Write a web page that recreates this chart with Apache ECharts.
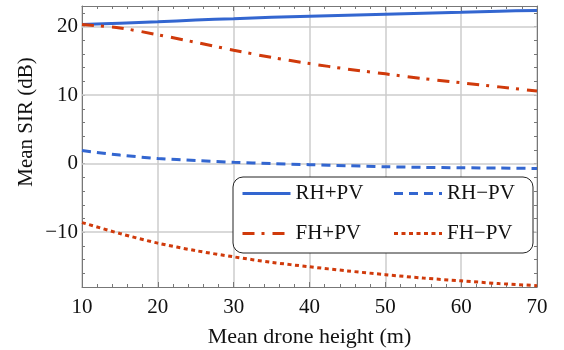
<!DOCTYPE html>
<html>
<head>
<meta charset="utf-8">
<script src="https://cdn.jsdelivr.net/npm/echarts@6/dist/echarts.min.js"></script>
<style>
  html, body { margin: 0; padding: 0; background: #fff; }
  #chart { width: 564px; height: 350px; }
</style>
</head>
<body>
<div id="chart"></div>
<script>
// mean drone height (m)
const heights = [10, 15, 20, 25, 30, 35, 40, 45, 50, 55, 60, 65, 70];

// mean SIR (dB)
const rhPlusPv  = [20.3, 20.5, 20.7, 20.95, 21.15, 21.35, 21.5, 21.65, 21.8, 21.95, 22.1, 22.25, 22.35];
const rhMinusPv = [1.9, 1.25, 0.75, 0.45, 0.2, 0.0, -0.15, -0.3, -0.45, -0.55, -0.6, -0.65, -0.7];
const fhPlusPv  = [20.3, 19.8, 18.8, 17.7, 16.55, 15.5, 14.6, 13.8, 13.1, 12.4, 11.8, 11.2, 10.6];
const fhMinusPv = [-8.6, -10.2, -11.6, -12.7, -13.6, -14.4, -15.05, -15.65, -16.2, -16.7, -17.1, -17.5, -17.8];

const seriesNames = ['RH+PV', 'RH\u2212PV', 'FH+PV', 'FH\u2212PV'];
const yGridValues = [-10, 0, 10, 20];

const BLUE = '#3366d0';
const RED = '#d03a0b';
const FONT = '"Liberation Serif", "DejaVu Serif", serif';
const AXIS = '#777';
const GRID = '#cccccc';

function pairs(vals) {
  return heights.map((h, i) => [h, vals[i]]);
}
function fmt(v) {
  return String(v).replace('-', '\u2212');
}

const chart = echarts.init(document.getElementById('chart'), null, { renderer: 'canvas' });

const tickX = { min: 10, max: 70, interval: 10 };
const tickY = { min: -18, max: 23, interval: 2 };

function mkLine(name, vals, color, dash) {
  return {
    name: name,
    type: 'line',
    data: pairs(vals),
    smooth: 0.3,
    symbol: 'none',
    z: 6,
    lineStyle: { color: color, width: 3, type: dash, cap: 'butt' },
    itemStyle: { color: color }
  };
}

chart.setOption({
  animation: false,
  grid: { left: 82, right: 27, top: 6, bottom: 63, outerBoundsMode: 'none', containLabel: false },
  xAxis: [{
    type: 'value', ...tickX,
    name: 'Mean drone height (m)',
    nameLocation: 'middle',
    nameGap: 39,
    nameTextStyle: { fontFamily: FONT, fontSize: 22, color: '#111' },
    axisLine: { show: true, onZero: false, lineStyle: { color: AXIS, width: 1 } },
    axisTick: { show: true, inside: true, length: 5, lineStyle: { color: AXIS } },
    minorTick: { show: true, splitNumber: 5, length: 3, lineStyle: { color: AXIS } },
    axisLabel: { fontFamily: FONT, fontSize: 21, color: '#111', margin: 10 },
    splitLine: { show: true, lineStyle: { color: GRID, width: 1.5 } }
  }, {
    type: 'value', ...tickX, position: 'top',
    axisLine: { show: true, onZero: false, lineStyle: { color: AXIS, width: 1 } },
    axisTick: { show: true, inside: true, length: 5, lineStyle: { color: AXIS } },
    minorTick: { show: true, splitNumber: 5, length: 3, lineStyle: { color: AXIS } },
    axisLabel: { show: false },
    splitLine: { show: false }
  }],
  yAxis: [{
    type: 'value', ...tickY,
    axisLine: { show: true, onZero: false, lineStyle: { color: AXIS, width: 1 } },
    axisTick: { show: true, inside: true, length: 3, lineStyle: { color: AXIS } },
    axisLabel: {
      fontFamily: FONT, fontSize: 21, color: '#111', margin: 4,
      formatter: v => (v % 10 === 0 ? fmt(v) : '')
    },
    splitLine: { show: false }
  }, {
    type: 'value', ...tickY, position: 'right',
    axisLine: { show: true, onZero: false, lineStyle: { color: AXIS, width: 1 } },
    axisTick: { show: true, inside: true, length: 3, lineStyle: { color: AXIS } },
    axisLabel: { show: false },
    splitLine: { show: false }
  }],
  graphic: [{
    type: 'text',
    x: 26, y: 122,
    rotation: Math.PI / 2,
    style: {
      text: 'Mean SIR (dB)',
      fontFamily: FONT, fontSize: 21, fill: '#111',
      align: 'center', verticalAlign: 'middle'
    }
  }],
  legend: {
    data: seriesNames,
    left: 233, top: 177,
    width: 290,
    z: 10,
    itemWidth: 48, itemHeight: 12, itemGap: 19,
    padding: [6, 8, 9, 8],
    backgroundColor: '#fff',
    borderColor: '#222', borderWidth: 1, borderRadius: 10,
    itemStyle: { opacity: 0 },
    lineStyle: { width: 3 },
    textStyle: { fontFamily: FONT, fontSize: 21, color: '#111', width: 78, lineHeight: 20 }
  },
  series: [
    {
      name: 'grid',
      type: 'line',
      data: [],
      z: 1,
      silent: true,
      markLine: {
        silent: true,
        symbol: 'none',
        label: { show: false },
        lineStyle: { color: GRID, width: 1.5, type: 'solid' },
        data: yGridValues.map(v => ({ yAxis: v }))
      }
    },
    mkLine(seriesNames[0], rhPlusPv, BLUE, 'solid'),
    mkLine(seriesNames[1], rhMinusPv, BLUE, [9, 6]),
    mkLine(seriesNames[2], fhPlusPv, RED, [12, 7, 3, 8]),
    mkLine(seriesNames[3], fhMinusPv, RED, [4, 3.5])
  ]
});
</script>
</body>
</html>
